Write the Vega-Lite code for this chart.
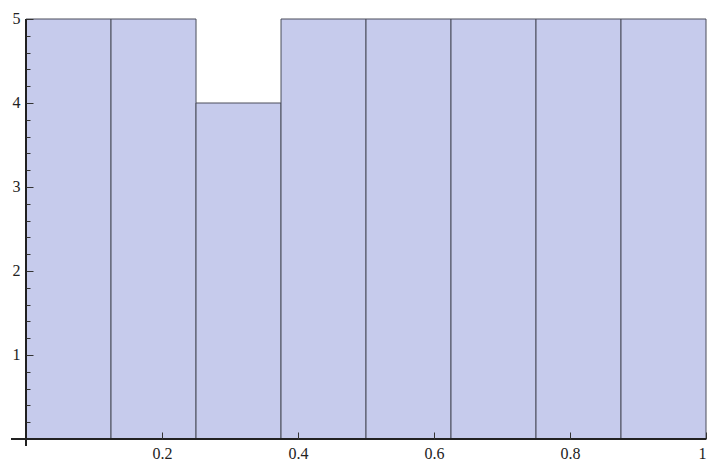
{
  "$schema": "https://vega.github.io/schema/vega-lite/v6.json",
  "width": 695,
  "height": 427,
  "autosize": {"type": "none"},
  "padding": {"left": 11, "top": 19, "right": 5, "bottom": 15},
  "background": "white",
  "config": {"view": {"stroke": null}},
  "data": {"values": [
    {"bin_start": 0.0, "bin_end": 0.125, "count": 5},
    {"bin_start": 0.125, "bin_end": 0.25, "count": 5},
    {"bin_start": 0.25, "bin_end": 0.375, "count": 4},
    {"bin_start": 0.375, "bin_end": 0.5, "count": 5},
    {"bin_start": 0.5, "bin_end": 0.625, "count": 5},
    {"bin_start": 0.625, "bin_end": 0.75, "count": 5},
    {"bin_start": 0.75, "bin_end": 0.875, "count": 5},
    {"bin_start": 0.875, "bin_end": 1.0, "count": 5}
  ]},
  "resolve": {"axis": {"x": "independent", "y": "independent"}},
  "layer": [
    {
      "mark": {"type": "rect", "fill": "#c6cbec", "stroke": "#4a4d5a", "strokeWidth": 1},
      "encoding": {
        "x": {
          "field": "bin_start", "type": "quantitative",
          "scale": {"domain": [-0.0221, 1], "nice": false, "zero": false},
          "axis": {
            "title": null, "values": [0.2, 0.4, 0.6, 0.8, 1], "zindex": 1, "domain": false, "offset": -7,
            "labelExpr": "datum.value == 1 ? '1' : format(datum.value, '.1f')",
            "tickSize": -7, "tickColor": "#333333", "tickWidth": 1,
            "labelFont": "Liberation Serif", "labelFontSize": 16, "labelColor": "#222222",
            "labelPadding": 13, "labelBaseline": "top", "grid": false
          }
        },
        "x2": {"field": "bin_end"},
        "y": {
          "field": "count", "type": "quantitative",
          "scale": {"domain": [-0.0833, 5], "nice": false, "zero": false},
          "axis": {
            "title": null, "zindex": 1, "domain": false, "offset": -15,
            "values": [0.2,0.4,0.6,0.8,1,1.2,1.4,1.6,1.8,2,2.2,2.4,2.6,2.8,3,3.2,3.4,3.6,3.8,4,4.2,4.4,4.6,4.8,5],
            "labelExpr": "abs(datum.value - round(datum.value)) < 0.001 ? format(datum.value, 'd') : ''",
            "tickSize": {"condition": {"test": "abs(datum.value - round(datum.value)) < 0.001", "value": -7}, "value": -4},
            "tickColor": "#333333", "tickWidth": 1,
            "labelFont": "Liberation Serif", "labelFontSize": 16, "labelColor": "#222222",
            "labelPadding": 13, "labelOffset": -1, "labelFlush": false, "labelOverlap": false, "grid": false
          }
        },
        "y2": {"datum": 0}
      }
    },
    {
      "mark": {"type": "rule", "color": "#222222", "strokeWidth": 1},
      "encoding": {"x": {"datum": -0.0221, "axis": null}, "x2": {"datum": 1}, "y": {"datum": 0, "axis": null}}
    },
    {
      "mark": {"type": "rule", "color": "#222222", "strokeWidth": 1},
      "encoding": {"x": {"datum": 0, "axis": null}, "y": {"datum": -0.0833, "axis": null}, "y2": {"datum": 5}}
    }
  ]
}
